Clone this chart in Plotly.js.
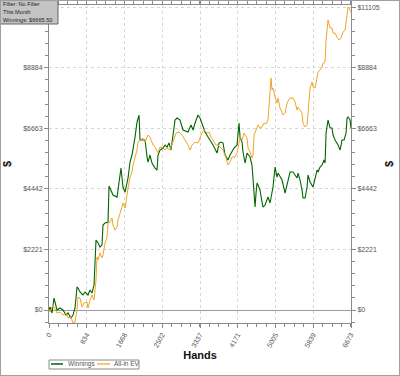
<!DOCTYPE html>
<html><head><meta charset="utf-8">
<script src="https://cdn.plot.ly/plotly-3.0.1.min.js"></script>
<style>
html,body{margin:0;padding:0;background:#fff;}
#wrap{position:relative;width:400px;height:376px;}
#chart{width:400px;height:376px;}
#frame{position:absolute;left:0;top:0;width:400px;height:376px;box-sizing:border-box;border:1px solid #a0a0a0;pointer-events:none;}
</style></head>
<body>
<div id="wrap"><div id="chart"></div><div id="frame"></div></div>
<script>
const winHands = [0,22,66,111,177,243,309,376,420,486,530,575,619,641,685,751,796,862,906,950,995,1017,1039,1083,1127,1171,1193,1238,1304,1326,1370,1414,1503,1547,1591,1635,1680,1746,1790,1834,1856,1901,1945,1989,2011,2077,2122,2166,2188,2232,2276,2343,2387,2409,2453,2519,2564,2608,2652,2696,2740,2785,2829,2895,2961,3028,3072,3138,3182,3227,3293,3337,3403,3448,3514,3558,3624,3713,3757,3801,3845,3890,3956,4000,4044,4089,4155,4199,4221,4265,4287,4332,4376,4442,4486,4508,4553,4575,4597,4619,4663,4707,4729,4774,4818,4840,4884,4928,4950,4995,5039,5061,5149,5216,5282,5326,5392,5481,5503,5547,5591,5613,5658,5702,5724,5768,5834,5879,5923,5945,5989,6033,6078,6100,6122,6166,6210,6254,6276,6321,6387,6431,6475,6520,6564,6586,6608,6652,6673];
const winnings = [0,110,-110,440,0,73,0,-183,-110,-293,-183,73,843,806,660,550,660,550,733,623,916,2199,2566,2456,2309,2382,3115,3189,3225,4545,4398,4215,4141,4655,5204,4508,4325,4838,5424,5681,5864,6340,6890,7147,6231,6231,6231,5607,5424,5681,5388,5204,5131,5681,5864,5937,6047,5974,6121,5864,6340,6964,7037,6964,6597,6560,6524,6780,6597,6854,7147,7037,6707,6524,6340,6231,6047,5754,6121,6157,6121,5681,5498,5681,5791,5937,6047,6854,6340,6157,5791,5388,5754,5607,5314,4655,3775,4288,4655,4581,4398,3958,3775,3848,4105,4141,3922,4288,4508,5241,4874,5021,4765,4288,4691,5058,5058,4838,5021,4765,4398,4105,4105,4508,4948,4691,4508,4874,5131,5058,5241,5314,5498,5388,6487,6964,6670,6670,6414,6231,6047,5864,6231,6231,6487,7037,7073,6964,6666];

const evHands = [0,22,88,177,243,309,376,420,486,530,575,619,641,685,729,774,840,862,906,950,995,1039,1061,1083,1127,1171,1193,1238,1282,1304,1348,1392,1414,1459,1503,1525,1613,1635,1680,1724,1746,1790,1834,1856,1901,1945,1967,2011,2077,2122,2166,2188,2232,2276,2298,2343,2409,2453,2519,2564,2608,2674,2740,2807,2873,2939,3006,3072,3116,3160,3227,3293,3337,3381,3426,3492,3536,3580,3624,3691,3735,3801,3845,3912,3956,4000,4044,4111,4155,4177,4221,4265,4310,4376,4398,4442,4486,4508,4531,4575,4619,4663,4707,4752,4796,4840,4884,4906,4928,4950,4995,5039,5061,5105,5171,5216,5260,5326,5392,5437,5481,5503,5547,5591,5613,5658,5702,5724,5768,5812,5834,5879,5923,5945,5989,6033,6055,6100,6122,6144,6166,6210,6254,6276,6321,6365,6409,6453,6497,6542,6586,6608,6630,6673];
const allInEV = [0,-73,183,-110,-73,-183,-110,-293,-257,-476,-440,0,476,440,110,257,293,73,367,550,367,1100,1942,1833,2089,1906,2016,2456,2675,3189,3225,3372,3115,2932,3042,3299,3775,3922,3738,4325,4471,4874,5058,5314,5571,5864,6157,6231,6304,6157,6304,6414,6340,6121,6047,5974,5754,5974,5937,5864,5937,5864,6157,6487,6524,6414,6231,6047,5864,6047,6157,6121,6304,6487,6597,6487,6524,6340,6231,6047,6047,5937,5864,5571,5314,5424,5607,5607,5754,5937,6340,6231,6487,6304,5937,5791,5571,5681,6414,6597,6780,6670,6707,6854,6817,6964,7880,8503,8063,8136,7806,7587,7770,7403,7147,7220,7587,7770,7770,7623,7330,7440,7330,7220,6854,6707,6780,7330,8136,8356,8173,8136,8503,8723,8796,8906,9053,9089,9896,10445,10629,10335,10335,10152,10152,10005,9896,9969,10189,10262,10885,11105,11068,10922];

const seriesNames = ['Winnings', 'All-in EV'];
const seriesColors = ['#006400', '#f2a424'];
const infoLines = ['Filter: No Filter', 'This Month', 'Winnings: $6665.50'];

const xTicks = [0,834,1668,2502,3337,4171,5005,5839,6673];
const yTicks = [0,2221,4442,6663,8884,11105];
const yTickText = ['$0','$2221','$4442','$6663','$8884','$11105'];

const fontFam = 'Liberation Sans, Arial, sans-serif';
const yRange = [-476, 11180];

const yCommon = {
  range: yRange, tickvals: yTicks, ticktext: yTickText, automargin: false,
  showline: true, linecolor: '#8a8a8a', linewidth: 1,
  ticks: 'outside', ticklen: 4, tickcolor: '#8a8a8a',
  minor: {dtick: 444.2, tick0: 0, ticks: 'outside', ticklen: 3, tickcolor: '#8a8a8a', showgrid: false},
  tickfont: {family: fontFam, size: 7, color: '#555'},
  fixedrange: true
};

const traces = [
  {x: winHands, y: winnings, type: 'scatter', mode: 'lines', name: seriesNames[0],
   line: {color: seriesColors[0], width: 1.1}},
  {x: evHands, y: allInEV, type: 'scatter', mode: 'lines', name: seriesNames[1],
   line: {color: seriesColors[1], width: 1}},
  {x: [], y: [], yaxis: 'y2', type: 'scatter', showlegend: false, hoverinfo: 'skip'}
];

// Compact legend and info box drawn as paper-referenced decoration
const lgY = -0.1289;
const shapes = [
  {type: 'rect', xref: 'paper', yref: 'paper', x0: 0, x1: 0.298, y0: -0.1447, y1: -0.1164,
   line: {color: '#8a8a8a', width: 1}, fillcolor: '#fff'},
  {type: 'line', xref: 'paper', yref: 'paper', x0: 0.0066, x1: 0.0464, y0: lgY, y1: lgY,
   line: {color: seriesColors[0], width: 1.5}},
  {type: 'line', xref: 'paper', yref: 'paper', x0: 0.159, x1: 0.202, y0: lgY, y1: lgY,
   line: {color: seriesColors[1], width: 1.2}},
  {type: 'rect', xref: 'paper', yref: 'paper', x0: -0.1606, x1: 0.0298, y0: 0.9403, y1: 1.0140,
   line: {color: '#666', width: 1}, fillcolor: '#c4c4c4'}
];

const infoY = [1.0031, 0.9780, 0.9528];
const annotations = infoLines.map((t, i) => ({
  xref: 'paper', yref: 'paper', x: -0.1570, y: infoY[i], xanchor: 'left', yanchor: 'middle',
  text: t, showarrow: false, borderpad: 0, font: {family: fontFam, size: 5.6, color: '#222'}
})).concat([
  {xref: 'paper', yref: 'paper', x: 0.0600, y: lgY, xanchor: 'left', yanchor: 'middle',
   text: seriesNames[0], showarrow: false, borderpad: 0, font: {family: fontFam, size: 6.5, color: '#555'}},
  {xref: 'paper', yref: 'paper', x: 0.211, y: lgY, xanchor: 'left', yanchor: 'middle',
   text: seriesNames[1], showarrow: false, borderpad: 0, font: {family: fontFam, size: 6.5, color: '#555'}}
]);

const layout = {
  width: 400, height: 376,
  margin: {l: 49, r: 49, t: 5, b: 53},
  paper_bgcolor: '#fff', plot_bgcolor: '#fff',
  showlegend: false,
  font: {family: fontFam, color: '#333'},
  xaxis: {
    range: [0, 6673], tickvals: xTicks, ticktext: xTicks.map(String), automargin: false,
    tickangle: -60, showline: true, linecolor: '#8a8a8a', linewidth: 1, mirror: 'ticks',
    ticks: 'outside', ticklen: 4, tickcolor: '#8a8a8a',
    minor: {dtick: 208.5, tick0: 0, ticks: 'outside', ticklen: 3, tickcolor: '#8a8a8a', showgrid: false},
    showgrid: true, gridcolor: '#d6d6d6', griddash: 'dot', gridwidth: 1,
    zeroline: false,
    tickfont: {family: fontFam, size: 7, color: '#555'},
    title: {text: '<b>Hands</b>', font: {family: fontFam, size: 11, color: '#111'}, standoff: 2},
    fixedrange: true
  },
  yaxis: Object.assign({}, yCommon, {
    side: 'left', showgrid: true, gridcolor: '#d6d6d6', griddash: 'dot', gridwidth: 1,
    zeroline: true, zerolinecolor: '#9a9a9a', zerolinewidth: 1,
    title: {text: '<b>$</b>', font: {family: fontFam, size: 11, color: '#111'}, standoff: 6}
  }),
  yaxis2: Object.assign({}, yCommon, {
    side: 'right', overlaying: 'y', showgrid: false, zeroline: false,
    title: {text: '<b>$</b>', font: {family: fontFam, size: 11, color: '#111'}, standoff: 6}
  }),
  shapes: shapes,
  annotations: annotations
};

Plotly.newPlot('chart', traces, layout, {displayModeBar: false, staticPlot: true});
</script>
</body></html>
